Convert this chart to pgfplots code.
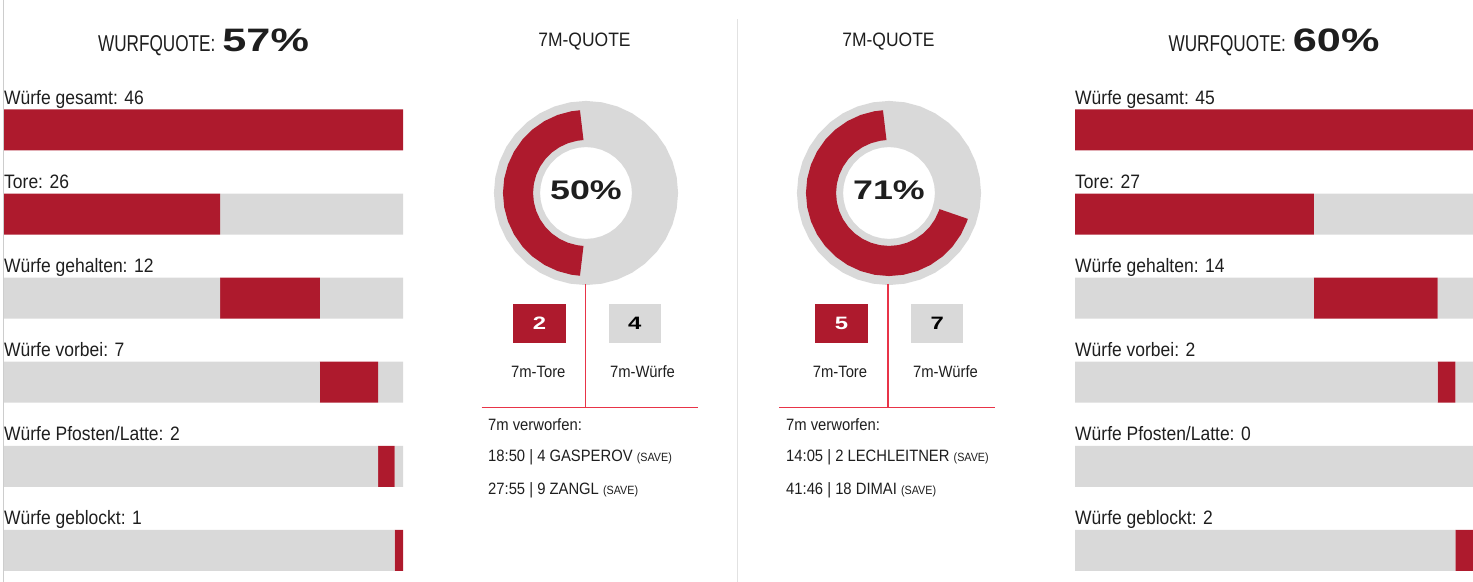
\documentclass[border=0pt]{standalone}
\usepackage{fontspec}
\usepackage{pgfplots}
\pgfplotsset{compat=1.18}
\setmainfont{Liberation Sans}
\newfontfamily\condA{Liberation Sans}[FakeStretch=0.9]
\newfontfamily\condT{Liberation Sans}[FakeStretch=0.75]
\newfontfamily\wideB{Liberation Sans Bold}[FakeStretch=1.33]
\definecolor{hred}{RGB}{174,26,45}
\definecolor{hgray}{RGB}{217,217,217}
\definecolor{lred}{RGB}{232,52,72}
\definecolor{sepgray}{RGB}{226,226,226}
\definecolor{bordergray}{RGB}{205,205,205}
\definecolor{txt}{RGB}{30,30,30}
\newcommand{\lbl}{\condA\fontsize{19.5}{22}\selectfont}
\newcommand{\sm}{\condA\fontsize{16.5}{19}\selectfont}
\newcommand{\savefont}{\condA\fontsize{12}{14}\selectfont}
\tikzset{lab/.style={anchor=base west, inner sep=0pt, text=txt, font=\lbl}}
\pgfplotsset{
  barpanel/.style={
    scale only axis, width=399bp, height=504.4bp,
    xbar stacked, bar width=41bp,
    xmin=0, ymin=0.5, ymax=6.5, y dir=reverse,
    axis lines=none, clip=false,
  },
  donut/.style={
    scale only axis, width=200bp, height=200bp,
    xmin=-100, xmax=100, ymin=-100, ymax=100,
    axis lines=none, clip=false,
  },
}
\begin{document}
\begin{tikzpicture}
\useasboundingbox (0bp,0bp) rectangle (1473bp,582bp);

% ---------- left bars ----------
\begin{axis}[barpanel, at={(203.5bp,241.85bp)}, anchor=center, xmax=48]
\addplot[fill=hgray, draw=none] coordinates {(0,1) (0,2) (26,3) (38,4) (45,5) (47,6)};
\addplot[fill=hred, draw=none] coordinates {(48,1) (26,2) (12,3) (7,4) (2,5) (1,6)};
\addplot[fill=hgray, draw=none] coordinates {(0,1) (22,2) (10,3) (3,4) (1,5) (0,6)};
\node[lab] at (axis cs:0,0.695) {Würfe gesamt: 46};
\node[lab] at (axis cs:0,1.695) {Tore: 26};
\node[lab] at (axis cs:0,2.695) {Würfe gehalten: 12};
\node[lab] at (axis cs:0,3.695) {Würfe vorbei: 7};
\node[lab] at (axis cs:0,4.695) {Würfe Pfosten/Latte: 2};
\node[lab] at (axis cs:0,5.695) {Würfe geblockt: 1};
\end{axis}

% ---------- right bars ----------
\begin{axis}[barpanel, at={(1274bp,241.85bp)}, anchor=center, width=398bp, xmax=45]
\addplot[fill=hgray, draw=none] coordinates {(0,1) (0,2) (27,3) (41,4) (45,5) (43,6)};
\addplot[fill=hred, draw=none] coordinates {(45,1) (27,2) (14,3) (2,4) (0,5) (2,6)};
\addplot[fill=hgray, draw=none] coordinates {(0,1) (18,2) (4,3) (2,4) (0,5) (0,6)};
\node[lab] at (axis cs:0,0.695) {Würfe gesamt: 45};
\node[lab] at (axis cs:0,1.695) {Tore: 27};
\node[lab] at (axis cs:0,2.695) {Würfe gehalten: 14};
\node[lab] at (axis cs:0,3.695) {Würfe vorbei: 2};
\node[lab] at (axis cs:0,4.695) {Würfe Pfosten/Latte: 0};
\node[lab] at (axis cs:0,5.695) {Würfe geblockt: 2};
\end{axis}

% ---------- left donut (50%) ----------
\begin{axis}[donut, at={(586bp,389bp)}, anchor=center]
\addplot[no marks, hgray, line width=46bp, data cs=polar] coordinates {
(0,69) (10,69) (20,69) (30,69) (40,69) (50,69) (60,69) (70,69) (80,69) (90,69) (100,69) (110,69)
(120,69) (130,69) (140,69) (150,69) (160,69) (170,69) (180,69) (190,69) (200,69) (210,69) (220,69)
(230,69) (240,69) (250,69) (260,69) (270,69) (280,69) (290,69) (300,69) (310,69) (320,69) (330,69)
(340,69) (350,69) (360,69) (370,69)};
\addplot[no marks, hred, line width=30bp, data cs=polar] coordinates {
(93.6,68) (100,68) (110,68) (120,68) (130,68) (140,68) (150,68) (160,68) (170,68) (180,68)
(190,68) (200,68) (210,68) (220,68) (230,68) (240,68) (250,68) (260,68) (266.4,68)};
\end{axis}

% ---------- right donut (71%) ----------
\begin{axis}[donut, at={(889bp,389bp)}, anchor=center]
\addplot[no marks, hgray, line width=46bp, data cs=polar] coordinates {
(0,69) (10,69) (20,69) (30,69) (40,69) (50,69) (60,69) (70,69) (80,69) (90,69) (100,69) (110,69)
(120,69) (130,69) (140,69) (150,69) (160,69) (170,69) (180,69) (190,69) (200,69) (210,69) (220,69)
(230,69) (240,69) (250,69) (260,69) (270,69) (280,69) (290,69) (300,69) (310,69) (320,69) (330,69)
(340,69) (350,69) (360,69) (370,69)};
\addplot[no marks, hred, line width=30bp, data cs=polar] coordinates {
(93.6,68) (100,68) (110,68) (120,68) (130,68) (140,68) (150,68) (160,68) (170,68) (180,68)
(190,68) (200,68) (210,68) (220,68) (230,68) (240,68) (250,68) (260,68) (270,68) (280,68)
(290,68) (300,68) (310,68) (320,68) (330,68) (340,68) (342,68)};
\end{axis}

\begin{scope}[x=1bp,y=1bp]
\draw[bordergray, line width=1bp] (3.3,0) -- (3.3,582);
\draw[sepgray, line width=1.5bp] (737.5,563) -- (737.5,0);

% ---------- titles ----------
\node[anchor=base, inner sep=0pt, text=txt] at (203.5,530.3)
  {{\condT\fontsize{23}{26}\selectfont WURFQUOTE:}\hspace{7bp}{\wideB\fontsize{32.6}{36}\selectfont 57\%}};
\node[anchor=base, inner sep=0pt, text=txt] at (1274,530.3)
  {{\condT\fontsize{23}{26}\selectfont WURFQUOTE:}\hspace{7bp}{\wideB\fontsize{32.6}{36}\selectfont 60\%}};
\node[anchor=base, inner sep=0pt, text=txt, font=\condA\fontsize{19.5}{22}\selectfont] at (584.5,535.3) {7M-QUOTE};
\node[anchor=base, inner sep=0pt, text=txt, font=\condA\fontsize{19.5}{22}\selectfont] at (888.5,535.3) {7M-QUOTE};

\node[anchor=base, inner sep=0pt, text=txt, font=\wideB\fontsize{27}{30}\selectfont] at (586,382.7) {50\%};
\node[anchor=base, inner sep=0pt, text=txt, font=\wideB\fontsize{27}{30}\selectfont] at (889,382.7) {71\%};

% ---------- 7m details left ----------
\draw[lred, line width=1.5bp] (585.5,298) -- (585.5,174.5);
\draw[lred, line width=1.5bp] (481.7,174.5) -- (697.7,174.5);
\fill[hred] (513.3,238.7) rectangle (565.7,277.7);
\fill[hgray] (608.7,238.7) rectangle (661,277.7);
\node[anchor=base, inner sep=0pt, text=white, font=\wideB\fontsize{18}{20}\selectfont] at (539.5,252.7) {2};
\node[anchor=base, inner sep=0pt, text=black, font=\wideB\fontsize{18}{20}\selectfont] at (634.85,252.7) {4};
\node[anchor=base, inner sep=0pt, text=txt, font=\sm] at (538.3,204.7) {7m-Tore};
\node[anchor=base, inner sep=0pt, text=txt, font=\sm] at (642.5,204.7) {7m-Würfe};
\node[anchor=base west, inner sep=0pt, text=txt, font=\sm] at (488,151.3) {7m verworfen:};
\node[anchor=base west, inner sep=0pt, text=txt, font=\sm] at (488,120.3) {18:50 | 4 GASPEROV {\savefont(SAVE)}};
\node[anchor=base west, inner sep=0pt, text=txt, font=\sm] at (488,88) {27:55 | 9 ZANGL {\savefont(SAVE)}};

% ---------- 7m details right ----------
\draw[lred, line width=1.5bp] (888,298) -- (888,174.5);
\draw[lred, line width=1.5bp] (779,174.5) -- (995,174.5);
\fill[hred] (815.3,238.7) rectangle (867.7,277.7);
\fill[hgray] (911,238.7) rectangle (963.3,277.7);
\node[anchor=base, inner sep=0pt, text=white, font=\wideB\fontsize{18}{20}\selectfont] at (841.5,252.7) {5};
\node[anchor=base, inner sep=0pt, text=black, font=\wideB\fontsize{18}{20}\selectfont] at (937.2,252.7) {7};
\node[anchor=base, inner sep=0pt, text=txt, font=\sm] at (840,204.7) {7m-Tore};
\node[anchor=base, inner sep=0pt, text=txt, font=\sm] at (945.5,204.7) {7m-Würfe};
\node[anchor=base west, inner sep=0pt, text=txt, font=\sm] at (786,151.3) {7m verworfen:};
\node[anchor=base west, inner sep=0pt, text=txt, font=\sm] at (786,120.3) {14:05 | 2 LECHLEITNER {\savefont(SAVE)}};
\node[anchor=base west, inner sep=0pt, text=txt, font=\sm] at (786,88) {41:46 | 18 DIMAI {\savefont(SAVE)}};
\end{scope}
\end{tikzpicture}
\end{document}
